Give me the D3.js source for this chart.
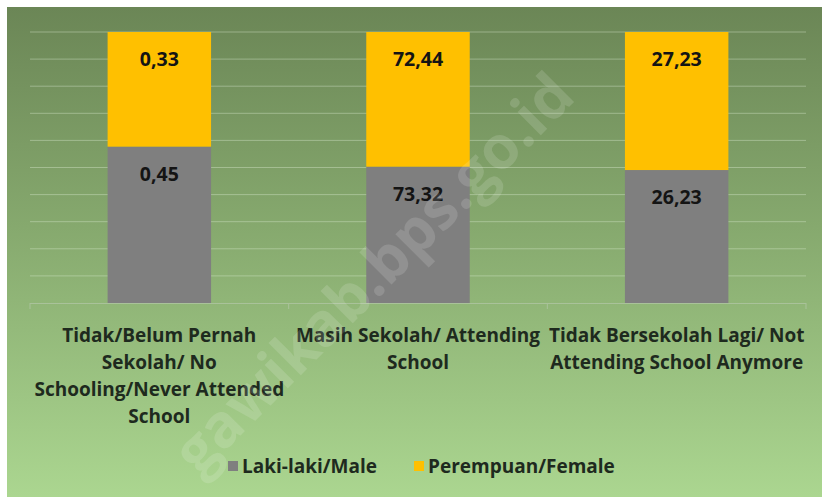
<!DOCTYPE html>
<html>
<head>
<meta charset="utf-8">
<script src="https://cdn.jsdelivr.net/npm/d3@7"></script>
<style>
  body { margin: 0; background: #fff; }
  svg { display: block; }
</style>
</head>
<body>
<div id="viz"><svg></svg></div>
<script>
const fullWidth = 822;
const fullHeight = 497;

// data
const categories = [
  'Tidak/Belum Pernah Sekolah/ No Schooling/Never Attended School',
  'Masih Sekolah/ Attending School',
  'Tidak Bersekolah Lagi/ Not Attending School Anymore'
];
const categoryLines = [
  ['Tidak/Belum Pernah', 'Sekolah/ No', 'Schooling/Never Attended', 'School'],
  ['Masih Sekolah/ Attending', 'School'],
  ['Tidak Bersekolah Lagi/ Not', 'Attending School Anymore']
];
const seriesNames = ['Laki-laki/Male', 'Perempuan/Female'];
const seriesColors = ['#7f7f7f', '#ffc000'];
const male = [0.45, 73.32, 26.23];
const female = [0.33, 72.44, 27.23];
const yTicks = [0, 10, 20, 30, 40, 50, 60, 70, 80, 90, 100];

const plot = { left: 30, right: 806, top: 32, bottom: 303 };
const font = '"Open Sans", Lato, sans-serif';

const svg = d3.select('#viz svg')
  .attr('width', fullWidth)
  .attr('height', fullHeight);

const defs = svg.append('defs');
const grad = defs.append('linearGradient')
  .attr('id', 'bg')
  .attr('x1', 0).attr('y1', 0).attr('x2', 0).attr('y2', 1);
grad.append('stop').attr('offset', '0%').attr('stop-color', '#6b8656');
grad.append('stop').attr('offset', '45%').attr('stop-color', '#86a96e');
grad.append('stop').attr('offset', '100%').attr('stop-color', '#abd690');

svg.append('rect')
  .attr('x', 7).attr('y', 7)
  .attr('width', fullWidth - 7).attr('height', fullHeight - 7)
  .attr('fill', 'url(#bg)');

const x = d3.scaleBand()
  .domain(categories)
  .range([plot.left, plot.right])
  .paddingInner(0.6)
  .paddingOuter(0.3);

const y = d3.scaleLinear()
  .domain([0, 100])
  .range([plot.bottom, plot.top]);

// gridlines
svg.append('g')
  .selectAll('line')
  .data(yTicks.slice(1))
  .enter().append('line')
  .attr('x1', plot.left).attr('x2', plot.right)
  .attr('y1', d => y(d)).attr('y2', d => y(d))
  .attr('stroke', 'rgba(220,235,210,0.4)')
  .attr('stroke-width', 1);

// stacked to 100%
const rows = categories.map((c, i) => {
  const total = male[i] + female[i];
  return { cat: c, male: male[i] / total * 100, female: female[i] / total * 100, raw: [male[i], female[i]] };
});
const stack = d3.stack().keys(['male', 'female'])(rows);

const fmt = v => d3.format('.2f')(v).replace('.', ',');

stack.forEach((layer, k) => {
  const g = svg.append('g');
  g.selectAll('rect')
    .data(layer)
    .enter().append('rect')
    .attr('x', d => x(d.data.cat))
    .attr('width', x.bandwidth())
    .attr('y', d => y(d[1]))
    .attr('height', d => y(d[0]) - y(d[1]))
    .attr('fill', seriesColors[k]);

  g.selectAll('text')
    .data(layer)
    .enter().append('text')
    .attr('x', d => x(d.data.cat) + x.bandwidth() / 2)
    .attr('y', d => y(d[1]) + 34)
    .attr('text-anchor', 'middle')
    .attr('font-family', font)
    .attr('font-weight', 'bold')
    .attr('font-size', 19.5)
    .attr('fill', '#141414')
    .text(d => fmt(d.data.raw[k]));
});

// axis line + ticks at band edges
const axis = svg.append('g').attr('stroke', '#a9c29a').attr('stroke-width', 1);
axis.append('line')
  .attr('x1', plot.left).attr('x2', plot.right)
  .attr('y1', plot.bottom + 0.5).attr('y2', plot.bottom + 0.5);
const edges = [plot.left].concat(categories.map(c => x(c) + x.bandwidth() / 2 + x.step() / 2));
axis.selectAll('line.tick')
  .data(edges)
  .enter().append('line')
  .attr('class', 'tick')
  .attr('x1', d => d).attr('x2', d => d)
  .attr('y1', plot.bottom).attr('y2', plot.bottom + 6);

// category labels
const labels = svg.append('g')
  .attr('font-family', font)
  .attr('font-weight', 'bold')
  .attr('font-size', 19)
  .attr('fill', '#1e2a1e')
  .attr('text-anchor', 'middle');
categories.forEach((c, i) => {
  const cx = x(c) + x.bandwidth() / 2;
  const t = labels.append('text')
    .attr('x', cx)
    .attr('y', 342);
  categoryLines[i].forEach((line, j) => {
    t.append('tspan')
      .attr('x', cx)
      .attr('dy', j === 0 ? 0 : 27)
      .text(line);
  });
});

// legend
const legendX = [228, 414];
const legend = svg.append('g')
  .attr('font-family', font)
  .attr('font-weight', 'bold')
  .attr('font-size', 19)
  .attr('fill', '#1e2a1e');
seriesNames.forEach((name, i) => {
  legend.append('rect')
    .attr('x', legendX[i]).attr('y', 461)
    .attr('width', 10).attr('height', 10)
    .attr('fill', seriesColors[i]);
  legend.append('text')
    .attr('x', legendX[i] + 14).attr('y', 473)
    .text(name);
});

// watermark
svg.append('text')
  .attr('transform', 'translate(388,288) rotate(-45)')
  .attr('text-anchor', 'middle')
  .attr('font-family', font)
  .attr('font-weight', 'bold')
  .attr('font-size', 60)
  .attr('fill', 'rgba(255,255,255,0.14)')
  .text('gawikab.bps.go.id');
</script>
</body>
</html>
